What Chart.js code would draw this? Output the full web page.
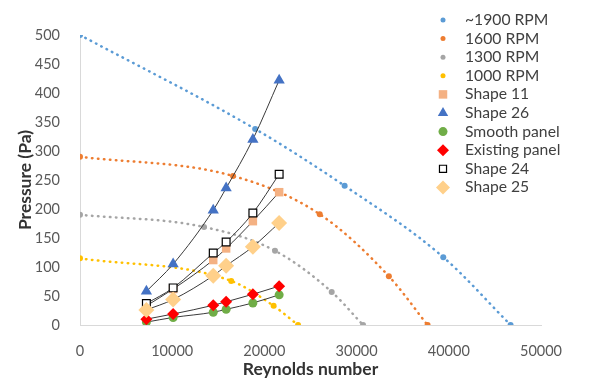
<!DOCTYPE html>
<html>
<head>
<meta charset="utf-8">
<script src="https://cdn.jsdelivr.net/npm/chart.js@4.4.1/dist/chart.umd.min.js"></script>
<style>
  html, body { margin: 0; padding: 0; background: #fff; }
  #wrap { width: 595px; height: 383px; }
</style>
</head>
<body>
<div id="wrap"><canvas id="chart" width="595" height="383"></canvas></div>
<script>
// fan curves (dotted trendlines with markers)
var rpm1900X = [0, 19000, 28700, 39400, 46700];
var rpm1900Y = [500, 338, 240, 117, 0];
var rpm1600X = [0, 16600, 26000, 33500, 37700];
var rpm1600Y = [290, 257, 191, 84, 0];
var rpm1300X = [0, 13450, 21150, 27300, 30700];
var rpm1300Y = [190, 169, 128, 57, 0];
var rpm1000X = [0, 16400, 21000, 23650];
var rpm1000Y = [115, 76, 33, 0];

// panel measurements, all at the same Reynolds numbers
var reynolds = [7200, 10100, 14450, 15850, 18750, 21600];
var shape11 = [33, 62, 112, 132, 179, 229];
var shape26 = [58, 105, 198, 236, 320, 422];
var smoothPanel = [5, 13, 22, 27, 38, 52];
var existingPanel = [10, 19, 34, 40, 53, 67];
var shape24 = [37, 64, 124, 143, 193, 260];
var shape25 = [26, 44, 85, 102, 135, 176];

var xTicks = [0, 10000, 20000, 30000, 40000, 50000];

function pts(xs, ys) {
    var out = [];
    for (var i = 0; i < xs.length; i++) {
        out.push({ x: xs[i], y: ys[i] });
    }
    return out;
}

function fanCurve(label, xs, ys, color) {
    return {
        label: label,
        data: pts(xs, ys),
        showLine: true,
        borderColor: color,
        borderWidth: 2.5,
        borderDash: [0.5, 5.5],
        borderCapStyle: 'round',
        cubicInterpolationMode: 'monotone',
        pointStyle: 'circle',
        pointRadius: 3,
        pointBackgroundColor: color,
        pointBorderColor: color,
        pointBorderWidth: 0,
        legendRadius: 2.5
    };
}

function panel(label, ys, style, radius, fill, stroke, legendRadius) {
    return {
        label: label,
        data: pts(reynolds, ys),
        showLine: true,
        borderColor: '#3a3a3a',
        borderWidth: 1,
        cubicInterpolationMode: 'monotone',
        pointStyle: style,
        pointRadius: radius,
        pointBackgroundColor: fill,
        pointBorderColor: stroke,
        pointBorderWidth: stroke === fill ? 0 : 1.2,
        legendRadius: legendRadius
    };
}

var datasets = [
    fanCurve('~1900 RPM', rpm1900X, rpm1900Y, '#5B9BD5'),
    fanCurve('1600 RPM', rpm1600X, rpm1600Y, '#ED7D31'),
    fanCurve('1300 RPM', rpm1300X, rpm1300Y, '#A5A5A5'),
    fanCurve('1000 RPM', rpm1000X, rpm1000Y, '#FFC000'),
    panel('Shape 11', shape11, 'rect', 6, '#F4B183', '#F4B183', 6),
    panel('Shape 26', shape26, 'triangle', 6.5, '#4472C4', '#4472C4', 6),
    panel('Smooth panel', smoothPanel, 'circle', 4.5, '#70AD47', '#70AD47', 4.5),
    panel('Existing panel', existingPanel, 'rectRot', 6, '#FF0000', '#FF0000', 6),
    panel('Shape 24', shape24, 'rect', 5.5, '#ffffff', '#000000', 5),
    panel('Shape 25', shape25, 'rectRot', 8, '#FFD08A', '#FFD08A', 7)
];
// later series are drawn on top, like in the spreadsheet
for (var i = 0; i < datasets.length; i++) {
    datasets[i].order = datasets.length - i;
}

// legend drawn over the right part of the plot
var sideLegend = {
    id: 'sideLegend',
    afterDraw: function (chart) {
        var ctx = chart.ctx;
        ctx.save();
        chart.data.datasets.forEach(function (ds, i) {
            var y = 20 + i * 18.6;
            ctx.fillStyle = ds.pointBackgroundColor;
            ctx.strokeStyle = ds.pointBorderColor;
            ctx.lineWidth = ds.pointBorderWidth;
            Chart.helpers.drawPoint(ctx, {
                pointStyle: ds.pointStyle,
                radius: ds.legendRadius,
                borderWidth: ds.pointBorderWidth,
                rotation: 0
            }, 443, y);
            ctx.fillStyle = '#404040';
            ctx.font = '15.7px Lato';
            ctx.textAlign = 'left';
            ctx.textBaseline = 'middle';
            ctx.fillText(ds.label, 465, y);
        });
        ctx.restore();
    }
};

new Chart(document.getElementById('chart'), {
    type: 'scatter',
    data: { datasets: datasets },
    plugins: [sideLegend],
    options: {
        responsive: false,
        animation: false,
        layout: { padding: { left: 0, right: 54, top: 35, bottom: 0 } },
        plugins: {
            legend: { display: false },
            tooltip: { enabled: false }
        },
        scales: {
            x: {
                type: 'linear',
                min: 0,
                max: 50000,
                afterBuildTicks: function (scale) {
                    scale.ticks = xTicks.map(function (v) { return { value: v }; });
                },
                afterFit: function (scale) { scale.height = 58; },
                grid: { display: false },
                border: { display: true, color: '#D9D9D9', width: 1 },
                ticks: {
                    padding: 10,
                    color: '#595959',
                    font: { family: 'Lato', size: 14.5 },
                    callback: function (v) { return String(v); }
                },
                title: {
                    display: true,
                    text: 'Reynolds number',
                    color: '#333333',
                    font: { family: 'Lato', size: 17.5, weight: 'bold' },
                    padding: { top: 0, bottom: 3 }
                }
            },
            y: {
                min: 0,
                max: 500,
                afterFit: function (scale) { scale.width = 80; },
                grid: { display: false },
                border: { display: true, color: '#D9D9D9', width: 1 },
                ticks: {
                    stepSize: 50,
                    padding: 12,
                    color: '#595959',
                    font: { family: 'Lato', size: 14.5 }
                },
                title: {
                    display: true,
                    text: 'Pressure (Pa)',
                    color: '#333333',
                    font: { family: 'Lato', size: 17.5, weight: 'bold' },
                    padding: { top: 15, bottom: 0 }
                }
            }
        }
    }
});
</script>
</body>
</html>
